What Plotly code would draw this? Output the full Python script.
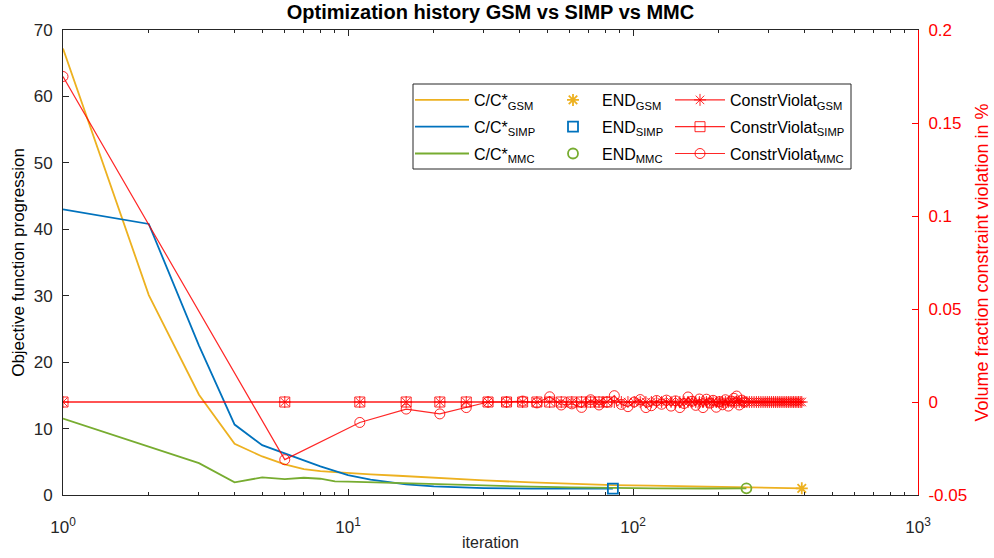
import plotly.graph_objects as go

# Objective history C/C* per optimizer, sampled at the iterations listed
gsm_iter = [1, 2, 3, 4, 5, 6, 7, 8, 9, 10, 12, 15, 20, 30, 44, 60, 85, 115, 180, 250, 391]
gsm_obj = [67.2, 30.1, 15.1, 7.7, 5.8, 4.6, 3.9, 3.6, 3.45, 3.3, 3.1, 2.9, 2.6, 2.2, 1.9, 1.7,
           1.5, 1.4, 1.25, 1.15, 1.0]

simp_iter = [1, 2, 3, 4, 5, 6, 7, 8, 9, 10, 12, 14, 16, 20, 25, 30, 44, 60, 85]
simp_obj = [43.0, 40.8, 22.5, 10.6, 7.5, 6.2, 5.2, 4.3, 3.6, 3.0, 2.3, 1.9, 1.6, 1.3, 1.15,
            1.05, 0.97, 0.95, 0.95]

mmc_iter = [1, 2, 3, 4, 5, 6, 7, 8, 9, 10, 12, 15, 20, 30, 44, 60, 85, 120, 180, 250]
mmc_obj = [11.5, 7.3, 4.8, 1.9, 2.65, 2.4, 2.6, 2.45, 2.05, 2.0, 1.9, 1.75, 1.6, 1.4, 1.25,
           1.15, 1.05, 1.0, 0.98, 1.0]

# Volume constraint violation, logged every 5th iteration
cv_iter = [1, 6, 11, 16, 21, 26, 31, 36, 41, 46, 51, 56, 61, 66, 71, 76, 81, 86, 91, 96,
           101, 106, 111, 116, 121, 126, 131, 136, 141, 146, 151, 156, 161, 166, 171, 176,
           181, 186, 191, 196, 201, 206, 211, 216, 221, 226, 231, 236, 241, 246, 251, 256,
           261, 266, 271, 276, 281, 286, 291, 296, 301, 306, 311, 316, 321, 326, 331, 336,
           341, 346, 351, 356, 361, 366, 371, 376, 381, 386, 391]

cv_gsm = [0.0, 0.0, 0.0, 0.0, 0.0, 0.0, 0.0, 0.0, 0.0, 0.0, 0.0, 0.0, 0.0, 0.0, 0.0, 0.0,
          0.0, 0.0, 0.0, 0.0, 0.0, 0.0, 0.0, 0.0, 0.0, 0.0, 0.0, 0.0, 0.0, 0.0, 0.0, 0.0,
          0.0, 0.0, 0.0, 0.0, 0.0, 0.0, 0.0, 0.0, 0.0, 0.0, 0.0, 0.0, 0.0, 0.0, 0.0, 0.0,
          0.0, 0.0, 0.0, 0.0, 0.0, 0.0, 0.0, 0.0, 0.0, 0.0, 0.0, 0.0, 0.0, 0.0, 0.0, 0.0,
          0.0, 0.0, 0.0, 0.0, 0.0, 0.0, 0.0, 0.0, 0.0, 0.0, 0.0, 0.0, 0.0, 0.0, 0.0]

cv_simp = [0.0, 0.0, 0.0, 0.0, 0.0, 0.0, 0.0, 0.0, 0.0, 0.0, 0.0, 0.0, 0.0, 0.0, 0.0, 0.0,
           0.0]

cv_mmc = [0.175, -0.031, -0.011, -0.0038, -0.0064, -0.003, 0.0, 0.0, 0.0005, -0.0005,
          0.0028, -0.0016, -0.001, -0.0029, 0.0012, -0.0016, 0.0, 0.0034, -0.0013, -0.0025,
          0.0, 0.0013, -0.003, -0.002, 0.0008, -0.0012, 0.001, -0.0022, 0.0006, -0.003,
          -0.0008, 0.0027, 0.0004, -0.0018, 0.0016, -0.003, 0.0015, -0.0006, 0.0009, -0.0028,
          0.0002, -0.0015, 0.0012, -0.0022, 0.0005, 0.002, 0.0032, -0.0016, 0.001, 0.0]

x_ticks = [1, 10, 100, 1000]
x_ticktext = ["10<sup>0</sup>", "10<sup>1</sup>", "10<sup>2</sup>", "10<sup>3</sup>"]
y_ticks = [0, 10, 20, 30, 40, 50, 60, 70]
y2_ticks = [-0.05, 0, 0.05, 0.1, 0.15, 0.2]
y2_ticktext = ["-0.05", "0", "0.05", "0.1", "0.15", "0.2"]

C_GSM = "#EDB120"
C_SIMP = "#0072BD"
C_MMC = "#77AC30"
C_RED = "rgba(255,0,0,0.85)"
AX = "#262626"
FONT = "Liberation Sans, Arial, Helvetica, sans-serif"

fig = go.Figure()

# objective curves (left axis)
for name, xs, ys, col in [("GSM", gsm_iter, gsm_obj, C_GSM),
                          ("SIMP", simp_iter, simp_obj, C_SIMP),
                          ("MMC", mmc_iter, mmc_obj, C_MMC)]:
    fig.add_trace(go.Scatter(x=xs, y=ys, mode="lines", line=dict(color=col, width=1.8),
                             name="C/C*<sub>%s</sub>" % name, legend="legend",
                             legendgroup="obj" + name))

# final iterates
for name, xs, ys, col, sym in [("GSM", gsm_iter, gsm_obj, C_GSM, "asterisk-open"),
                               ("SIMP", simp_iter, simp_obj, C_SIMP, "square-open"),
                               ("MMC", mmc_iter, mmc_obj, C_MMC, "circle-open")]:
    fig.add_trace(go.Scatter(x=[xs[-1]], y=[ys[-1]], mode="markers",
                             marker=dict(symbol=sym, size=10, color=col,
                                         line=dict(color=col, width=1.8)),
                             name="END<sub>%s</sub>" % name, legend="legend2",
                             legendgroup="end" + name))

# constraint violation (right axis)
for name, ys, sym in [("GSM", cv_gsm, "asterisk-open"),
                      ("SIMP", cv_simp, "square-open"),
                      ("MMC", cv_mmc, "circle-open")]:
    fig.add_trace(go.Scatter(x=cv_iter[:len(ys)], y=ys, yaxis="y2", mode="lines+markers",
                             line=dict(color=C_RED, width=1.2),
                             marker=dict(symbol=sym, size=10, color=C_RED,
                                         line=dict(color=C_RED, width=1)),
                             name="ConstrViolat<sub>%s</sub>" % name, legend="legend3",
                             legendgroup="cv" + name))

# legend frame spanning the three legend columns
L, R, T, B = 63, 918, 30, 495
W, H = R - L, B - T


def px_x(p):
    return (p - L) / W


def px_y(p):
    return 1 - (p - T) / H


fig.add_shape(type="rect", xref="paper", yref="paper",
              x0=px_x(413), x1=px_x(851), y0=px_y(169), y1=px_y(84),
              line=dict(color=AX, width=1), fillcolor="white", layer="above")

leg_common = dict(bgcolor="rgba(0,0,0,0)", borderwidth=0, xanchor="left", yanchor="top",
                  font=dict(family=FONT, size=16, color="#000000"), tracegroupgap=3)

fig.update_layout(
    width=994, height=558,
    margin=dict(l=L, r=994 - R, t=T, b=558 - B),
    plot_bgcolor="white", paper_bgcolor="white",
    font=dict(family=FONT, size=16, color=AX),
    showlegend=True,
    title=dict(text="<b>Optimization history GSM vs SIMP vs MMC</b>",
               x=0.5, xref="paper", xanchor="center",
               y=1 - 12 / 558, yref="container", yanchor="middle", automargin=False,
               font=dict(family=FONT, size=20, color="#000000")),
    xaxis=dict(type="log", range=[0, 3], tickvals=x_ticks, ticktext=x_ticktext,
               ticks="inside", ticklen=6, tickcolor=AX, showline=True, linecolor=AX,
               linewidth=1, mirror="ticks", showgrid=False, zeroline=False,
               automargin=False, ticklabelstandoff=17,
               tickfont=dict(family=FONT, size=17, color=AX),
               minor=dict(tickvals=[m * 10 ** k for k in range(3) for m in range(2, 10)],
                          ticks="inside", ticklen=3, tickcolor=AX, showgrid=False),
               title=dict(text="iteration", standoff=0,
                          font=dict(family=FONT, size=16, color=AX))),
    yaxis=dict(range=[0, 70], tickvals=y_ticks, ticks="inside",
               ticklen=6, tickcolor=AX, showline=True, linecolor=AX, linewidth=1,
               showgrid=False, zeroline=False, automargin=False, ticklabelstandoff=6,
               tickfont=dict(family=FONT, size=17, color=AX),
               title=dict(text="Objective function progression", standoff=4,
                          font=dict(family=FONT, size=17, color="#000000"))),
    yaxis2=dict(overlaying="y", side="right", range=[-0.05, 0.2], tickvals=y2_ticks,
                ticktext=y2_ticktext, ticks="inside", ticklen=6, tickcolor="#FF0000",
                showline=True, linecolor="#FF0000", linewidth=1, showgrid=False,
                zeroline=False, automargin=False, ticklabelstandoff=6,
                tickfont=dict(family=FONT, size=17, color="#FF0000"),
                title=dict(text="Volume fraction constraint violation in %", standoff=9,
                           font=dict(family=FONT, size=18, color="#FF0000"))),
    legend=dict(x=px_x(410), y=px_y(83), itemwidth=54, **leg_common),
    legend2=dict(x=px_x(544), y=px_y(83), itemwidth=48, **leg_common),
    legend3=dict(x=px_x(670), y=px_y(83), itemwidth=50, **leg_common),
)

fig.write_html("out.html")
